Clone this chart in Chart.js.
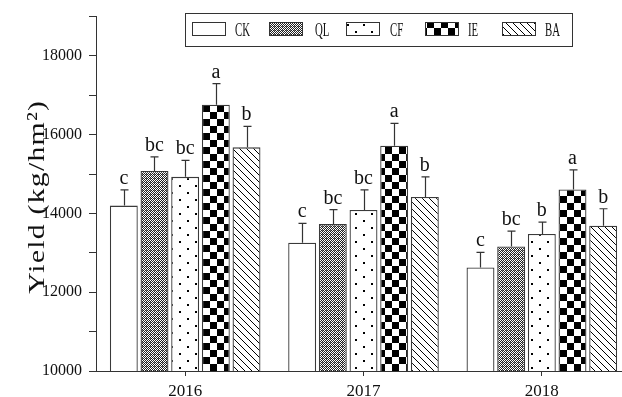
<!DOCTYPE html>
<html>
<head>
<meta charset="utf-8">
<script src="https://cdn.jsdelivr.net/npm/chart.js@4.4.1/dist/chart.umd.min.js"></script>
<style>
  html, body { margin: 0; padding: 0; background: #fff; overflow: hidden; }
  #wrap { width: 632px; height: 397px; }
</style>
</head>
<body>
<div id="wrap"><canvas id="c" width="632" height="397"></canvas></div>
<script>
// Yield by treatment and year
const years = ['2016', '2017', '2018'];
const treatments = ['CK', 'QL', 'CF', 'IE', 'BA'];

const ckMean = [14200, 13260, 12630];
const qlMean = [15080, 13730, 13160];
const cfMean = [14930, 14090, 13480];
const ieMean = [16760, 15720, 14610];
const baMean = [15680, 14420, 13690];

const ckErr = [400, 490, 380];
const qlErr = [360, 370, 390];
const cfErr = [420, 510, 300];
const ieErr = [540, 570, 500];
const baErr = [530, 510, 430];

const ckSig = ['c', 'c', 'c'];
const qlSig = ['bc', 'bc', 'bc'];
const cfSig = ['bc', 'bc', 'b'];
const ieSig = ['a', 'a', 'a'];
const baSig = ['b', 'b', 'b'];

const yTicks = [10000, 12000, 14000, 16000, 18000];
const yTitle = 'Yield (kg/hm²)';

const SERIF = '"Liberation Serif", "Times New Roman", serif';
const INK = '#333333';

// ---- fill patterns ----
function tile(w, h, draw) {
  const cv = document.createElement('canvas');
  cv.width = w; cv.height = h;
  const g = cv.getContext('2d');
  g.fillStyle = '#fff';
  g.fillRect(0, 0, w, h);
  g.fillStyle = '#000';
  g.strokeStyle = '#000';
  draw(g);
  return cv.getContext('2d').createPattern(cv, 'repeat');
}

const pats = {
  CK: '#ffffff',
  QL: tile(4, 4, g => {
    g.fillStyle = '#222';
    for (let y = 0; y < 4; y++)
      for (let x = 0; x < 4; x++)
        if ((x + y) % 2 === 1) g.fillRect(x, y, 1, 1);
    g.fillStyle = '#777';
    g.fillRect(2, 2, 1, 1);
  }),
  CF: tile(16, 14, g => {
    g.fillRect(3, 3, 2, 2);
    g.fillRect(11, 10, 2, 2);
  }),
  IE: tile(14, 14, g => {
    g.fillRect(0, 0, 7, 7);
    g.fillRect(7, 7, 7, 7);
  }),
  BA: tile(7, 7, g => {
    g.lineWidth = 1;
    g.beginPath();
    g.moveTo(-1, -1); g.lineTo(8, 8);
    g.moveTo(-8, -1); g.lineTo(1, 8);
    g.moveTo(6, -1); g.lineTo(15, 8);
    g.stroke();
  })
};

const series = [
  { name: 'CK', mean: ckMean, err: ckErr, sig: ckSig },
  { name: 'QL', mean: qlMean, err: qlErr, sig: qlSig },
  { name: 'CF', mean: cfMean, err: cfErr, sig: cfSig },
  { name: 'IE', mean: ieMean, err: ieErr, sig: ieSig },
  { name: 'BA', mean: baMean, err: baErr, sig: baSig }
];

// ---- error bars and significance letters ----
const errorBars = {
  id: 'errorBars',
  afterDatasetsDraw(chart) {
    const ctx = chart.ctx;
    const ys = chart.scales.y;
    ctx.save();
    ctx.strokeStyle = INK;
    ctx.lineWidth = 1.2;
    ctx.fillStyle = '#111';
    ctx.font = '20px ' + SERIF;
    ctx.textAlign = 'center';
    ctx.textBaseline = 'alphabetic';
    chart.data.datasets.forEach((ds, i) => {
      const meta = chart.getDatasetMeta(i);
      meta.data.forEach((bar, j) => {
        const top = ys.getPixelForValue(ds.data[j] + ds.err[j]);
        const x = Math.round(bar.x) + 0.5;
        ctx.beginPath();
        ctx.moveTo(x, bar.y);
        ctx.lineTo(x, top);
        ctx.moveTo(x - 4, top);
        ctx.lineTo(x + 4, top);
        ctx.stroke();
        ctx.fillText(ds.sig[j], bar.x, top - 6);
      });
    });
    ctx.restore();
  }
};

// ---- rotated y-axis title ----
const axisTitle = {
  id: 'axisTitle',
  afterDraw(chart) {
    const ctx = chart.ctx;
    const area = chart.chartArea;
    ctx.save();
    ctx.font = '24px ' + SERIF;
    ctx.letterSpacing = '1px';
    const w = ctx.measureText(yTitle).width;
    const target = 194;
    ctx.translate(38, (area.top + area.bottom) / 2 + 3);
    ctx.rotate(-Math.PI / 2);
    ctx.scale(target / w, 1);
    ctx.fillStyle = '#111';
    ctx.textAlign = 'center';
    ctx.textBaseline = 'middle';
    ctx.fillText(yTitle, 0, 0);
    ctx.restore();
  }
};

// ---- framed legend ----
const framedLegend = {
  id: 'framedLegend',
  afterDraw(chart) {
    const ctx = chart.ctx;
    ctx.save();
    ctx.fillStyle = '#fff';
    ctx.fillRect(185.5, 13.5, 387, 33);
    ctx.strokeStyle = INK;
    ctx.lineWidth = 1;
    ctx.strokeRect(185.5, 13.5, 387, 33);
    const swX = [192, 269, 346, 425, 502];
    const txX = [235, 315, 390, 468, 545];
    chart.data.datasets.forEach((ds, i) => {
      ctx.fillStyle = ds.backgroundColor;
      ctx.fillRect(swX[i], 22, 34, 14);
      ctx.strokeStyle = INK;
      ctx.lineWidth = 1;
      ctx.strokeRect(swX[i] + 0.5, 22.5, 33, 13);
      ctx.save();
      ctx.translate(txX[i], 36);
      ctx.scale(0.6, 1);
      ctx.fillStyle = '#111';
      ctx.font = '18px ' + SERIF;
      ctx.textAlign = 'left';
      ctx.textBaseline = 'alphabetic';
      ctx.fillText(ds.label, 0, 0);
      ctx.restore();
    });
    ctx.restore();
  }
};

new Chart(document.getElementById('c'), {
  type: 'bar',
  data: {
    labels: years,
    datasets: series.map(s => ({
      label: s.name,
      data: s.mean,
      err: s.err,
      sig: s.sig,
      backgroundColor: pats[s.name],
      borderColor: '#3a3a3a',
      borderWidth: 1.3,
      borderSkipped: false,
      categoryPercentage: 0.86,
      barPercentage: 0.91
    }))
  },
  options: {
    responsive: false,
    animation: false,
    devicePixelRatio: 1,
    layout: { padding: { top: 16, right: 1, left: 0, bottom: 0 } },
    plugins: {
      legend: { display: false },
      tooltip: { enabled: false }
    },
    scales: {
      x: {
        afterFit(scale) { scale.height = 26; },
        grid: {
          offset: false,
          drawOnChartArea: false,
          drawTicks: true,
          tickLength: 5,
          color: INK
        },
        border: { color: INK, width: 1 },
        ticks: {
          padding: 5,
          color: '#111',
          font: { family: SERIF, size: 17 }
        }
      },
      y: {
        min: 10000,
        max: 19000,
        afterFit(scale) { scale.width = 96; },
        grid: {
          drawOnChartArea: false,
          drawTicks: true,
          tickLength: 7,
          color: INK
        },
        border: { color: INK, width: 1 },
        ticks: {
          stepSize: 1000,
          padding: 7,
          color: '#111',
          font: { family: SERIF, size: 16 },
          callback: v => (yTicks.includes(v) ? String(v) : '')
        },
        title: { display: false, text: yTitle }
      }
    }
  },
  plugins: [errorBars, axisTitle, framedLegend]
});
</script>
</body>
</html>
